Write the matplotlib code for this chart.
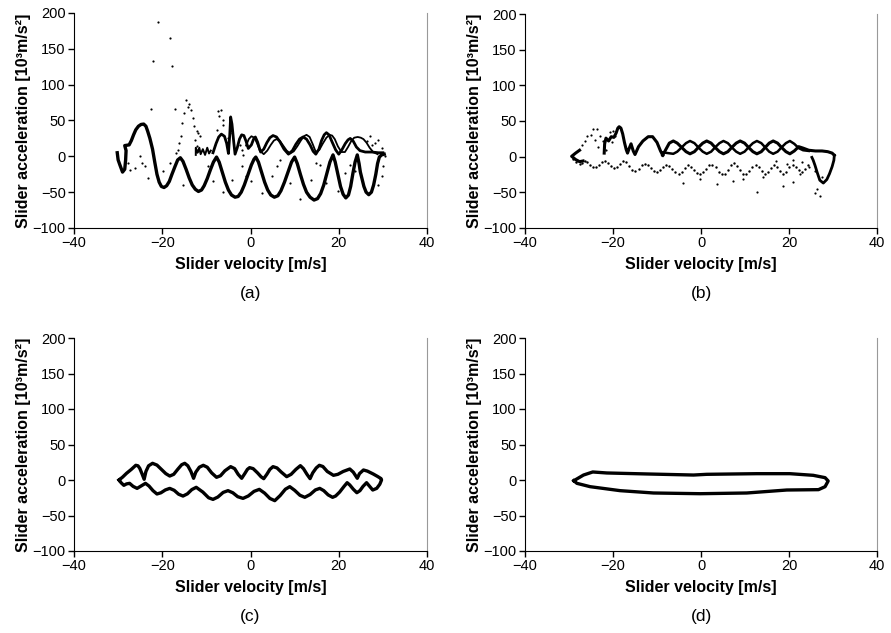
import matplotlib
matplotlib.use("Agg")
import matplotlib.pyplot as plt

plt.rcParams['font.family'] = ['Liberation Sans', 'DejaVu Sans']

# ---------------- Panel (a) ----------------
a_lower_v = [-30.2, -30.0, -29.6, -29.0, -28.5, -28.3, -28.2, -28.5, -27.5, -27.0, -26.5, -26.0, -25.4,
             -24.8, -24.2, -23.7, -23.3, -22.8, -22.2, -21.7, -21.2, -20.7, -20.2, -19.6, -19.0, -18.4,
             -17.8, -17.1, -16.5, -15.9, -15.3, -14.6, -13.9, -13.2, -12.5, -11.8, -11.1, -10.5, -9.8,
             -9.1, -8.4, -7.7, -7.1, -6.4, -5.7, -5.0, -4.3, -3.5, -2.8, -2.1, -1.4, -0.6, 0.2, 0.8, 1.2,
             1.8, 2.5, 3.2, 3.9, 4.6, 5.4, 6.2, 6.9, 7.7, 8.5, 9.3, 10.0, 10.6, 11.3, 12.0, 12.7, 13.5,
             14.4, 15.2, 15.9, 16.6, 17.3, 18.0, 18.7, 19.2, 19.8, 20.4, 21.0, 21.6, 22.2, 22.7, 23.2,
             23.7, 24.2, 24.6, 24.9, 25.3, 25.7, 26.2, 26.8, 27.4, 27.9, 28.4, 28.8, 29.2, 29.7, 30.3]
a_lower_a = [5, -5, -12, -22, -18, -5, 8, 15, 16, 22, 30, 37, 42,
             44.5, 45, 42, 35, 25, 10, -8, -25, -36, -42, -43.5, -41, -35,
             -25, -14, -5, -2, -7, -18, -30, -40, -46, -49, -47, -41, -31,
             -19, -8, -1, -8, -22, -36, -47, -54, -57, -56, -50, -40, -26, -12, -4, -1,
             -8, -22, -36, -47, -54, -57, -55, -48, -36, -22, -8, -1, -10, -25, -39, -50, -57,
             -61, -59, -52, -40, -24, -8, 2, -8, -25, -42, -53, -58, -54, -42, -24,
             -8, 2, -10, -22, -32, -42, -50, -53.5, -50, -40, -25, -10, -1, 2, 3]

a_up1_v = [-8.5, -7.8, -7.2, -6.6, -5.9, -5.4, -5.0, -4.7, -4.5, -4.2, -3.8, -3.5, -3.0, -2.5, -2.0,
           -1.5, -1.0, -0.5, 0.2, 0.7, 1.1, 1.6, 2.3, 3.0, 3.7, 4.4, 5.1, 5.9, 6.7, 7.6, 8.6, 9.5, 10.3,
           11.1, 11.9, 12.7, 13.5, 14.2, 14.8, 15.5, 16.1, 16.7, 17.2, 17.8, 18.5, 19.3, 20.0, 20.7,
           21.5, 22.1, 22.6, 23.3, 24.0, 24.8, 26.0, 27.5, 29.0, 30.0]
a_up1_a = [5, 18, 27, 31, 28, 18, 4, 30, 55, 45, 20, 3, 12, 24, 30, 29, 21, 11, 16, 24, 27, 20, 6, 10, 19,
           26, 29, 27, 20, 10, 3, 8, 17, 24, 27, 24, 16, 7, 3, 10, 22, 30, 33, 30, 20, 9, 3, 9,
           18, 23, 25, 21, 13, 8, 6, 6, 5, 5]

a_up2_v = [-1.0, -0.4, 0.2, 0.9, 1.5, 2.1, 3.0, 3.8, 4.6, 5.3, 5.9, 6.6, 7.4, 8.2, 9.0, 9.8, 10.6, 11.4,
           12.1, 12.7, 13.4, 14.1, 14.8, 15.6, 16.4, 17.2, 17.9, 18.5, 19.1, 19.8, 20.6, 21.4, 22.1,
           22.8, 23.5, 24.3, 25.0, 25.6, 26.3, 27.0, 27.8, 28.8]
a_up2_a = [15, 24, 28, 26, 18, 8, 3, 8, 16, 22, 24, 22, 15, 8, 4, 7, 14, 22,
           28, 30, 27, 17, 6, 9, 18, 26, 30, 29, 24, 14, 6, 6, 13,
           21, 26, 27, 26, 24, 19, 12, 6, 3]

a_scrib_v = [-12.4, -12.4, -12.0, -11.6, -11.3, -10.8, -10.3, -9.8, -9.4, -9.0]
a_scrib_a = [2, 12, 5, 12, 3, 10, 2, 12, 4, 8]

a_dots_v = [-20.9, -18.3, -22.2, -17.7, -22.6, -17.1, -14.6, -13.9, -14.1, -15.1, -15.6, -13.4, -13.1,
            -12.8, -15.8, -16.2, -16.4, -16.8, -12.2, -11.8, -11.5, -12.6, -12.2, -11.8, -7.3, -6.6,
            -7.1, -6.3, -6.2, -7.7, -4.1, -5.1, -2.4, -2.0, -1.8, -27.7, -27.3, -26.2, -25.1, -24.7,
            -23.9, -23.2, -19.8, -18.3, -15.2, -9.6, -8.5, -6.2, -4.1, -2.0, -1.1, 0.2, 2.5, 4.8, 5.9,
            6.6, 8.9, 11.2, 13.8, 14.9, 15.7, 17.2, 19.8, 21.4, 22.5, 27.0, 28.2, 28.9, 29.7, 30.4,
            30.0, 29.9, 28.9, 23.6, 26.5, 27.6]
a_dots_a = [188, 165, 133, 126, 66, 66, 78, 73, 69, 60, 47, 65, 53,
            43, 28, 19, 9, 5, 35, 33, 28, 23, 14, 7, 63, 64,
            56, 51, 44, 37, 33, 26, 16, 9, 2, -9, -19, -16, 0, -9,
            -14, -30, -21, -9, -40, -14, -35, -50, -33, -14, -28, -35, -51, -28, -14,
            -5, -37, -60, -33, -9, -12, -37, -49, -23, -12, 28, 19, 23, 12, 0,
            -14, -28, -40, -21, 22, 16]

# ---------------- Panel (b) ----------------
b_arm_v = [-27.6, -28.5, -29.4, -28.5, -27.6, -26.8]
b_arm_a = [9, 5, 0.5, -4, -7, -6]

b_spike_v = [-22.0, -21.9, -21.6, -21.0, -20.4, -19.8, -19.3, -18.9, -18.6, -18.2, -17.8, -17.4, -17.0,
             -16.7, -16.3, -15.9, -15.4, -15.0, -14.2, -13.2, -12.0, -11.0, -10.0, -9.2, -8.7]
b_spike_a = [5, 18, 26, 22, 28, 27, 33, 40, 42, 40, 32, 20, 10,
             5, 12, 18, 8, 3, 14, 22, 28, 28, 20, 8, 2]

b_wa_v = [-8.7, -8.0, -7.2, -6.3, -5.4, -4.4, -3.4, -2.5, -1.5, -0.6, 0.4, 1.3, 2.3, 3.2, 4.2, 5.1, 6.1,
          7.0, 8.0, 8.9, 9.9, 10.8, 11.8, 12.7, 13.7, 14.6, 15.5, 16.4, 17.4, 18.3, 19.3, 20.2, 21.2,
          22.2, 23.2, 24.5, 26.0, 27.5, 28.8, 29.8, 30.3]
b_wa_a = [2, 10, 19, 22, 19, 13, 7, 4, 7, 13, 19, 22, 19, 13, 7, 4, 7,
          13, 19, 22, 19, 13, 7, 4, 7, 13, 19, 22, 19, 13, 7, 4, 8,
          14, 12, 9, 8, 8, 7, 5, 2]
b_wb_v = [-8.7, -7.5, -6.3, -5.4, -4.4, -3.4, -2.5, -1.5, -0.6, 0.4, 1.3, 2.3, 3.2, 4.2, 5.1, 6.1, 7.0,
          8.0, 8.9, 9.9, 10.8, 11.8, 12.7, 13.7, 14.6, 15.5, 16.4, 17.4, 18.3, 19.3, 20.2, 21.2, 22.2,
          23.2, 24.5]
b_wb_a = [6, 5, 4, 7, 13, 19, 22, 19, 13, 7, 4, 7, 13, 19, 22, 19, 13,
          7, 4, 7, 13, 19, 22, 19, 13, 7, 4, 7, 13, 19, 22, 18, 12,
          9, 8]
b_loop_v = [30.3, 30.2, 29.8, 29.2, 28.6, 27.8, 27.0, 26.4, 25.9, 25.5, 25.2]
b_loop_a = [2, -5, -14, -24, -32, -37, -33, -22, -12, -5, -1]

b_low_v = [-29.0, -28.3, -27.6, -27.0, -26.4, -25.8, -25.2, -24.5, -23.8, -23.2, -22.5, -21.8, -21.1,
           -20.4, -19.7, -19.0, -18.4, -17.7, -17.0, -16.3, -15.6, -14.9, -14.2, -13.5, -12.8, -12.1,
           -11.4, -10.7, -10.0, -9.3, -8.6, -7.9, -7.2, -6.5, -5.8, -5.1, -4.4, -3.7, -3.0, -2.3, -1.6,
           -0.9, -0.2, 0.5, 1.2, 1.9, 2.6, 3.3, 4.0, 4.7, 5.4, 6.1, 6.8, 7.5, 8.2, 8.9, 9.6, 10.3, 11.0,
           11.7, 12.4, 13.1, 13.8, 14.5, 15.2, 15.9, 16.6, 17.3, 18.0, 18.7, 19.4, 20.1, 20.8, 21.5,
           22.2, 22.9, 23.6, 24.3]
b_low_a = [-3, -7, -10, -9, -6, -8, -12, -15, -14, -11, -8, -6, -9,
           -13, -16, -15, -10, -6, -8, -13, -18, -20, -17, -12, -10, -12,
           -16, -20, -22, -19, -14, -11, -13, -17, -22, -24, -21, -16, -12, -14, -19,
           -23, -25, -22, -17, -12, -11, -15, -21, -25, -24, -18, -12, -9, -13, -19, -24, -25, -20,
           -14, -11, -14, -20, -24, -22, -16, -12, -15, -20, -24, -21, -15, -11, -14,
           -19, -21, -17, -12]

b_dots_v = [-4.0, 3.6, 12.7, 18.7, 25.9, 27.0, 26.4, -0.2, 7.3, 9.6, 14.1, 20.9, 22.4,
            -24.5, -23.7, -25.8, -25.0, -26.4, -27.1, -23.0, -22.2, -23.3, -20.7, -19.9, -19.5,
            -20.3, -24.0, -21.5, 21.0, 23.0, 24.5, 26.0, 19.5, 17.0, 27.5]
b_dots_a = [-37, -38, -49, -41, -51, -55, -45, -32, -34, -32, -28, -35, -25,
            39, 39, 29, 31, 22, 17, 29, 22, 13, 34, 36, 29,
            20, 24, 10, -5, -8, -15, -20, -10, -6, -28]

# ---------------- Panel (c) ----------------
c_v = [-29.8, -29.0, -28.1, -27.0, -26.0, -25.5, -25.1, -24.6, -24.1, -23.7, -23.1, -22.2, -21.2, -20.2,
       -19.2, -18.3, -17.4, -16.5, -15.6, -14.9, -14.2, -13.5, -12.9, -12.4, -11.6, -10.7, -9.8, -8.8,
       -7.7, -6.8, -5.8, -4.5, -3.6, -2.8, -2.0, -1.3, -0.7, -0.2, 0.6, 1.6, 2.4, 3.0, 3.7, 4.4, 5.1,
       6.0, 7.0, 8.2, 9.2, 10.3, 11.3, 12.0, 12.8, 13.5, 14.1, 14.9, 15.6, 16.4, 17.4, 18.8, 19.8,
       21.0, 22.5, 23.3, 24.2, 24.7, 25.6, 26.5, 27.8, 28.8, 29.6, 29.7,
       29.3, 28.6, 27.7, 27.0, 26.3, 25.5, 24.8, 24.1, 23.3, 22.5, 21.9, 21.2, 20.2, 19.3, 18.6, 17.6,
       16.6, 15.7, 14.7, 13.5, 12.3, 11.2, 10.0, 8.9, 7.9, 6.7, 5.5, 4.4, 3.2, 2.0, 0.8, -0.5, -1.7,
       -2.9, -4.0, -5.1, -6.2, -7.4, -8.5, -9.5, -10.8, -12.3, -13.3, -14.3, -15.3, -16.3, -17.3,
       -18.3, -19.3, -20.3, -21.2, -22.1, -23.0, -23.8, -24.8, -25.7, -26.6, -27.4, -28.1, -28.7,
       -29.3, -29.8]
c_a = [0, 4, 9.4, 15, 20.7, 20, 16.5, 9, 1, 12, 20, 23.5, 21, 15,
       9, 5.6, 8, 15, 21.5, 23.5, 20, 12, 2.4, 11, 18, 20.7, 18, 10,
       3.8, 6, 13, 18.8, 16, 8, 2.4, 9, 15, 17.4, 16, 10, 4.5, 1.9, 8, 15, 18.8,
       17, 11, 4.7, 8, 15, 20.2, 16, 8, 1.9, 10, 17, 20.7, 19, 12, 6.6, 8,
       12, 15.5, 11, 2.4, 9, 14.1, 12.5, 8.5, 5, 1.9, 0,
       -6, -11.8, -14.1, -9, -3.8, -9, -15, -17.9, -13, -7, -3.8, -9, -17, -22.5, -24.4, -21,
       -15, -11.8, -14, -20.5, -24.4, -21.5, -14.5, -9.4, -13, -22, -29.1, -26, -18.5, -13.2, -16, -22.5, -25.9,
       -23.5, -18, -15.0, -17.5, -24, -27.3, -25, -17, -10.3, -13.5, -19.5, -22.6, -20, -14.5,
       -11.8, -14, -18, -19.7, -15, -8.5, -4.7, -8.5, -11.8, -9, -4.7, -5.5, -7.5,
       -4, 0]

# ---------------- Panel (d) ----------------
d_v = [-28.9, -26.7, -24.6, -21.4, -12.3, -1.7, 1.3, 12.7, 20.2, 25.5, 28.2, 28.9, 28.2, 26.7, 19.5,
       10.4, -0.2, -10.8, -18.4, -25.2, -28.2, -28.9]
d_a = [-1, 7, 11.3, 9.9, 8.5, 7, 8, 8.9, 8.9, 6.6, 3.3, -1.4, -9.4, -13.6, -14.1,
       -18.3, -19.3, -18.3, -15.0, -9.4, -4.7, -1]

x_ticks = [-40, -20, 0, 20, 40]
y_ticks = [-100, -50, 0, 50, 100, 150, 200]
captions = ['(a)', '(b)', '(c)', '(d)']
xlabel_text = 'Slider velocity [m/s]'
ylabel_text = 'Slider acceleration [10³m/s²]'

fig = plt.figure(figsize=(8.91, 6.33), dpi=100)
W, H = 891, 633
boxes = [(74, 13, 427, 228), (525, 14, 877, 228), (74, 338, 427, 551), (525, 338, 877, 551)]
axes = []
for (l, t, r, b) in boxes:
    ax = fig.add_axes([l / W, 1 - b / H, (r - l) / W, (b - t) / H])
    axes.append(ax)

k = 'black'
ax = axes[0]
ax.plot(a_lower_v, a_lower_a, color=k, lw=2.4, solid_joinstyle='round')
ax.plot(a_up1_v, a_up1_a, color=k, lw=2.0, solid_joinstyle='round')
ax.plot(a_up2_v, a_up2_a, color=k, lw=1.3, solid_joinstyle='round')
ax.plot(a_scrib_v, a_scrib_a, color=k, lw=1.4)
ax.scatter(a_dots_v, a_dots_a, s=2.5, color=k, linewidths=0)

ax = axes[1]
ax.plot(b_arm_v, b_arm_a, color=k, lw=2.2, solid_joinstyle='round')
ax.plot(b_spike_v, b_spike_a, color=k, lw=2.2, solid_joinstyle='round')
ax.plot(b_wa_v, b_wa_a, color=k, lw=2.2, solid_joinstyle='round')
ax.plot(b_wb_v, b_wb_a, color=k, lw=1.8, solid_joinstyle='round')
ax.plot(b_loop_v, b_loop_a, color=k, lw=2.0, solid_joinstyle='round')
ax.scatter(b_low_v, b_low_a, s=3, color=k, linewidths=0)
ax.scatter(b_dots_v, b_dots_a, s=2.5, color=k, linewidths=0)

axes[2].plot(c_v, c_a, color=k, lw=2.4, solid_joinstyle='round')
axes[3].plot(d_v, d_a, color=k, lw=2.4, solid_joinstyle='round')

for i, ax in enumerate(axes):
    ax.set_xlim(-40, 40)
    ax.set_ylim(-100, 200)
    ax.set_xticks(x_ticks)
    ax.set_yticks(y_ticks)
    ax.tick_params(direction='out', length=4, width=1, labelsize=10.5, pad=2)
    ax.spines['top'].set_visible(False)
    ax.spines['right'].set_color('#999999')
    ax.spines['right'].set_linewidth(0.8)
    ax.set_xlabel(xlabel_text, fontsize=11.5, fontweight='bold', labelpad=5)
    ax.set_ylabel(ylabel_text, fontsize=11.5, fontweight='bold', labelpad=1)
    l, t, r, b = boxes[i]
    fig.text((l + r) / 2 / W, 1 - (b + 65) / H, captions[i], ha='center', va='center', fontsize=12.5)

fig.savefig('out.png', dpi=100)
